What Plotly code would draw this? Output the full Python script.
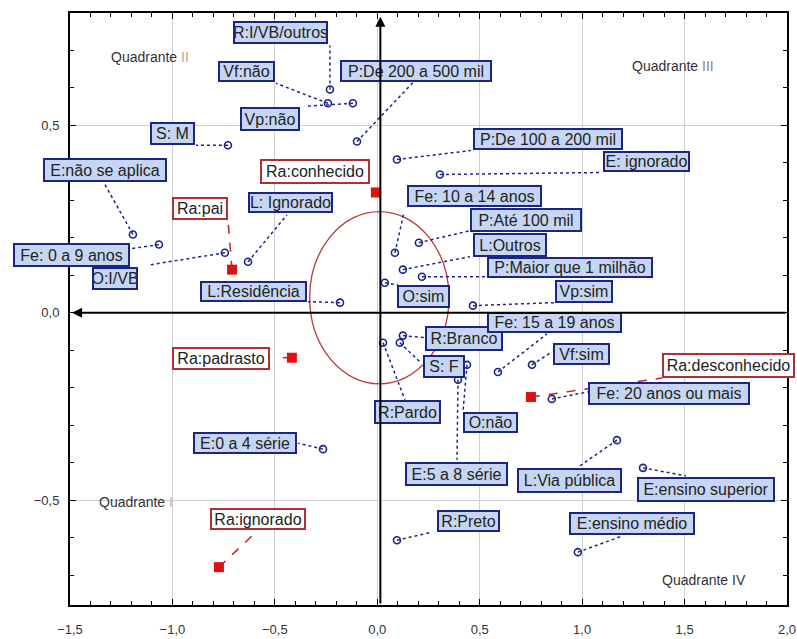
import plotly.graph_objects as go

# ---------------- data ----------------
blue_labels = ["R:I/VB/outros", "Vf:não", "Vp:não", "P:De 200 a 500 mil", "S: M",
               "P:De 100 a 200 mil", "E: ignorado", "E:não se aplica", "Fe: 0 a 9 anos", "O:I/VB",
               "L: Ignorado", "L:Residência", "O:sim", "P:Maior que 1 milhão", "L:Outros",
               "Fe: 10 a 14 anos", "P:Até 100 mil", "Vp:sim", "R:Pardo", "R:Branco",
               "S: F", "O:não", "E:5 a 8 série", "Fe: 15 a 19 anos", "Vf:sim",
               "Fe: 20 anos ou mais", "L:Via pública", "E:ensino superior", "E:ensino médio", "R:Preto",
               "E:0 a 4 série"]
blue_x = [-0.231, -0.241, -0.119, -0.099, -0.729,
          0.096, 0.306, -1.193, -1.066, -0.744,
          -0.631, -0.182, 0.037, 0.218, 0.125,
          0.086, 0.203, 0.467, 0.028, 0.125,
          0.110, 0.438, 0.394, 0.589, 0.755,
          0.852, 1.170, 1.297, 0.979, 0.096,
          -0.265]
blue_y = [0.596, 0.559, 0.559, 0.457, 0.447,
          0.409, 0.369, 0.209, 0.182, 0.160,
          0.136, 0.027, 0.080, 0.096, 0.115,
          0.160, 0.187, 0.019, -0.080, -0.061,
          -0.080, -0.139, -0.179, -0.158, -0.139,
          -0.230, -0.340, -0.414, -0.639, -0.607,
          -0.364]

red_labels = ["Ra:pai", "Ra:conhecido", "Ra:padrasto", "Ra:desconhecido", "Ra:ignorado"]
red_x = [-0.709, -0.007, -0.417, 0.750, -0.773]
red_y = [0.115, 0.321, -0.120, -0.225, -0.679]

x_ticks = [-1.5, -1.0, -0.5, 0.0, 0.5, 1.0, 1.5, 2.0]
y_ticks = [-0.5, 0.0, 0.5]

quadrant_names = ["Quadrante II", "Quadrante III", "Quadrante I", "Quadrante IV"]

# ---------------- layout helpers (positions in pixels, relative to the point) -------------
# (dx, dy) label box centre offset, (w, h) box size, (ex, ey) connector end offset
label_layout = {
    "R:I/VB/outros": (-49.5, -56.5, 95, 23, 0, -44),
    "Vf:não": (-81.5, -31.5, 57, 21, -52, -20),
    "Vp:não": (-83, 16, 60, 24, -48, 3),
    "P:De 200 a 500 mil": (59, -71, 152, 22, 56, -59),
    "S: M": (-55.5, -11.5, 45, 23, -32, 0),
    "P:De 100 a 200 mil": (151, -21, 150, 22, 74, -9),
    "E: ignorado": (206.5, -12.5, 87, 21, 162, -2),
    "E:não se aplica": (-28, -64, 124, 24, -28, -50),
    "Fe: 0 a 9 anos": (-87.5, 10, 117, 24, -27, 4),
    "O:I/VB": (-110, 25.5, 46, 23, -75, 12),
    "L: Ignorado": (42.5, -59.5, 85, 21, 39, -47),
    "L:Residência": (-86.5, -11.5, 107, 21, -32, -1),
    "O:sim": (38.5, 13.5, 53, 23, 13, 2),
    "P:Maior que 1 milhão": (148, -9.5, 166, 21, 64, 0),
    "L:Outros": (107, -25, 74, 24, 67, -13),
    "Fe: 10 a 14 anos": (79.5, -57, 135, 22, 9, -40),
    "P:Até 100 mil": (107, -23, 112, 24, 51, -12),
    "Vp:sim": (111, -14.5, 58, 23, 81, -3),
    "R:Pardo": (24.5, 69, 67, 24, 22, 57),
    "R:Branco": (61, 2.5, 78, 25, 21, 2),
    "S: F": (44, 23.5, 42, 23, 20, 19),
    "O:não": (23.5, 57.5, 55, 21, -4, 47),
    "E:5 a 8 série": (-1.5, 94, 103, 24, -1, 80),
    "Fe: 15 a 19 anos": (56.5, -49.5, 135, 21, 49, -38),
    "Vf:sim": (49.5, -11, 57, 22, 20, -13),
    "Fe: 20 anos ou mais": (117, -5.5, 162, 23, 36, -7),
    "L:Via pública": (-47.5, 40.5, 105, 25, -39, 27),
    "E:ensino superior": (63, 21.5, 138, 25, 43, 8),
    "E:ensino médio": (54, -28.5, 126, 23, 44, -16),
    "R:Preto": (71.5, -19, 63, 22, 35, -8),
    "E:0 a 4 série": (-78, -6, 104, 22, -25, -6),
    "Ra:pai": (-32, -61.5, 56, 23, -4, -49),
    "Ra:conhecido": (-61, -20.5, 110, 25, None, None),
    "Ra:padrasto": (-71, 0.5, 98, 23, -14, 0),
    "Ra:desconhecido": (197.5, -31.5, 133, 25, 131, -19),
    "Ra:ignorado": (39, -48, 96, 22, 36, -34),
}

quad_pos = [(-1.110, 0.682), (1.443, 0.658), (-1.178, -0.505), (1.594, -0.714)]

W, H = 797, 639
ML, MR, MT, MB = 70, 10, 13, 34
XR = [-1.5, 2.0]
YR = [-0.78, 0.80]
pxx = (W - ML - MR) / (XR[1] - XR[0])
pxy = (H - MT - MB) / (YR[1] - YR[0])

ellipse = dict(x0=-0.33, x1=0.35, y0=-0.19, y1=0.27)

BLUE = "#1c2585"
RED = "#e01010"

fig = go.Figure()

fig.add_trace(go.Scatter(
    x=blue_x, y=blue_y, mode="markers",
    marker=dict(symbol="circle-open", size=7, color=BLUE, line=dict(width=1.6, color=BLUE)),
    hoverinfo="text", text=blue_labels, showlegend=False))
fig.add_trace(go.Scatter(
    x=red_x, y=red_y, mode="markers",
    marker=dict(symbol="square", size=10, color=RED),
    hoverinfo="text", text=red_labels, showlegend=False))

shapes = []
annotations = []

# ellipse
shapes.append(dict(type="circle", xref="x", yref="y", line=dict(color="#b83a3a", width=1.3),
                   layer="above", **ellipse))


def add_label(name, x, y, red):
    dx, dy, w, h, ex, ey = label_layout[name]
    if ex is not None:
        shapes.append(dict(type="line", xref="x", yref="y",
                           x0=x, y0=y, x1=x + ex / pxx, y1=y - ey / pxy,
                           line=dict(color="#c02020" if red else BLUE, width=1.5,
                                     dash="dash" if red else "dot"),
                           layer="above"))
    annotations.append(dict(
        x=x + dx / pxx, y=y - dy / pxy, xref="x", yref="y",
        text=name, showarrow=False, xanchor="center", yanchor="middle",
        width=w - 4, height=h - 4, borderpad=0, borderwidth=2,
        bordercolor="#b03030" if red else BLUE,
        bgcolor="#ffffff" if red else "#c6d6f2",
        font=dict(family="Arial", size=16, color="#222222")))


for n, x, y in zip(blue_labels, blue_x, blue_y):
    add_label(n, x, y, False)
for n, x, y in zip(red_labels, red_x, red_y):
    add_label(n, x, y, True)

# axes lines with arrows
annotations.append(dict(x=XR[0] + 0.01, y=0, ax=XR[1], ay=0, xref="x", yref="y",
                        axref="x", ayref="y", text="", showarrow=True,
                        arrowhead=2, arrowsize=1, arrowwidth=2, arrowcolor="#000000"))
annotations.append(dict(x=0.015, y=YR[1] - 0.01, ax=0.015, ay=YR[0], xref="x", yref="y",
                        axref="x", ayref="y", text="", showarrow=True,
                        arrowhead=2, arrowsize=1, arrowwidth=2, arrowcolor="#000000"))

num_colors = ["#b8a888", "#8c8070", "#b8b8b8", "#333333"]
for name, (qx, qy), nc in zip(quadrant_names, quad_pos, num_colors):
    base, num = name.split(" ")
    annotations.append(dict(x=qx, y=qy, xref="x", yref="y", showarrow=False,
                            text=f"{base} <span style='color:{nc}'>{num}</span>",
                            font=dict(family="Arial", size=14, color="#333333")))

axis_common = dict(showgrid=True, gridcolor="#cfcfcf", gridwidth=1, zeroline=False,
                   showline=True, linecolor="#000000", linewidth=2, mirror="allticks",
                   ticks="inside", ticklen=6, tickwidth=1, tickcolor="#000000",
                   tickmode="linear", automargin=False,
                   tickformat=".1f", tickfont=dict(family="Arial", size=13, color="#333333"),
                   minor=dict(ticks="inside", ticklen=4, tickcolor="#000000", dtick=0.1, showgrid=False))

fig.update_layout(
    width=W, height=H,
    margin=dict(l=ML, r=MR, t=MT, b=MB),
    paper_bgcolor="#ffffff", plot_bgcolor="#ffffff",
    separators=",.",
    xaxis=dict(range=XR, tick0=x_ticks[0], dtick=x_ticks[1] - x_ticks[0],
               ticklabelstandoff=11, **axis_common),
    yaxis=dict(range=YR, tick0=y_ticks[0], dtick=y_ticks[1] - y_ticks[0],
               ticklabelstandoff=6, **axis_common),
    shapes=shapes, annotations=annotations,
)

fig.write_html("out.html", config={"displayModeBar": False},
               post_script="document.body.style.margin='0';document.body.style.overflow='hidden';")
